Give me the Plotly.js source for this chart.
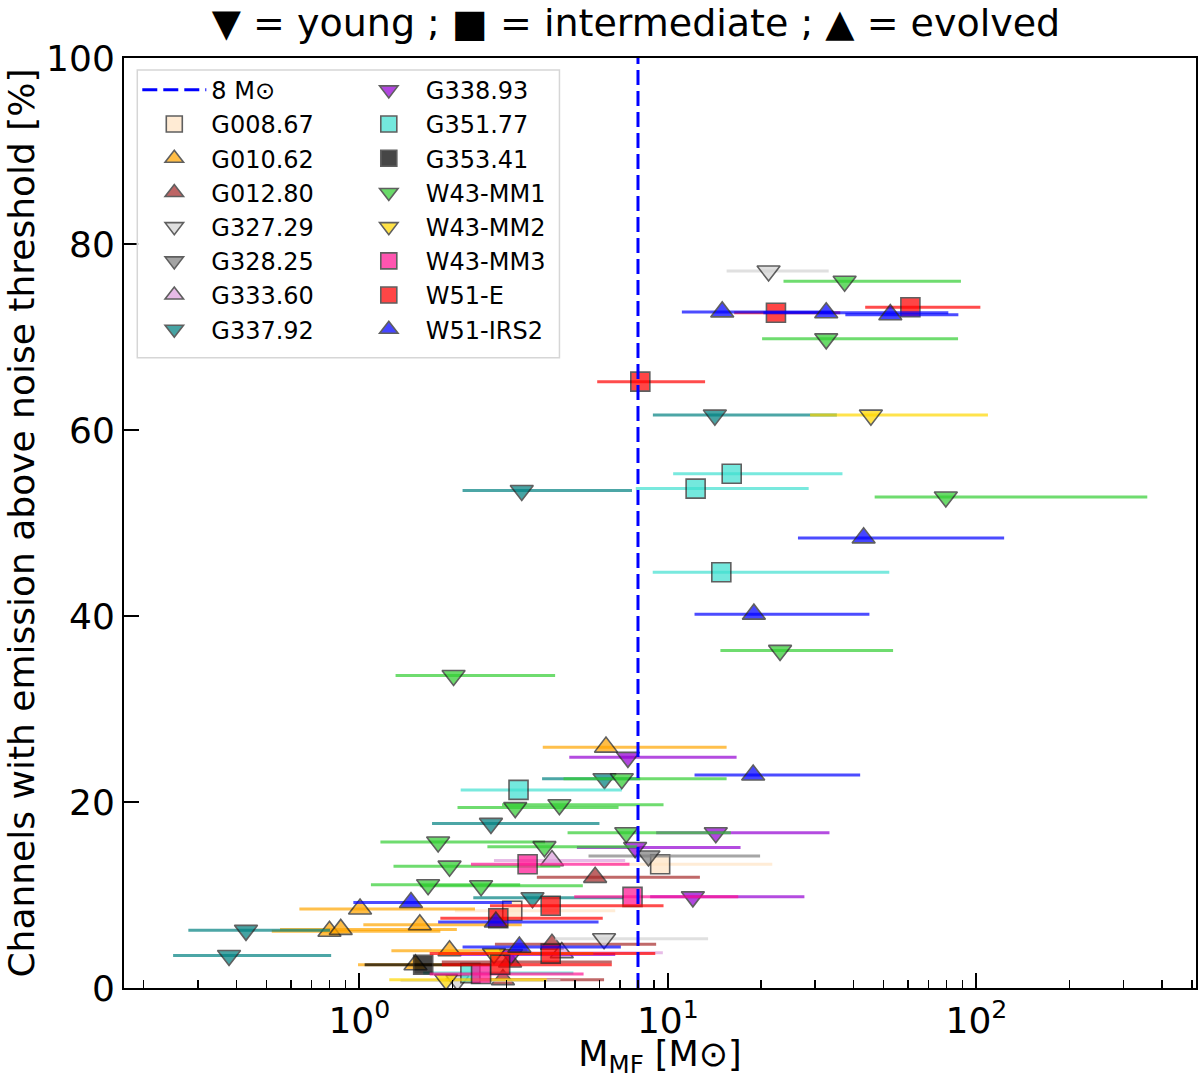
<!DOCTYPE html>
<html>
<head>
<meta charset="utf-8">
<script src="https://cdn.plot.ly/plotly-3.0.1.min.js"></script>
<style>
  body { margin: 0; background: #fff; }
  #plot { width: 1200px; height: 1079px; }
</style>
</head>
<body>
<div id="plot"></div>
<script>
// rows: [M_MF, channels %, lower M, upper M]
var G008_67 = [[9.44, 13.3, 5.60, 21.8], [3.13, 8.3, 2.04, 6.75]];
var G010_62 = [[6.30, 25.9, 3.93, 15.5], [1.005, 8.5, 0.639, 2.37], [1.57, 6.8, 1.03, 3.36],
   [0.80, 6.1, 0.52, 1.83], [0.87, 6.3, 0.553, 2.07], [1.96, 4.0, 1.27, 3.50], [1.52, 2.5, 0.99, 2.29]];
var G012_80 = [[5.81, 11.9, 3.76, 12.7], [4.21, 4.7, 2.75, 9.16], [3.08, 2.8, 1.85, 6.58], [2.92, 0.9, 1.90, 6.21]];
var G327_29 = [[21.2, 77.1, 15.5, 33.2], [6.21, 5.3, 4.31, 13.5], [2.08, 0.8, 1.36, 4.48]];
var G328_25 = [[8.65, 14.2, 5.53, 19.9]];
var G333_60 = [[4.21, 13.7, 2.73, 7.27], [4.53, 3.8, 2.29, 9.63]];
var G337_92 = [[14.2, 61.6, 8.94, 35.3], [3.36, 53.5, 2.16, 7.65], [6.23, 22.5, 3.91, 8.13],
   [2.67, 17.7, 1.72, 6.00], [3.64, 9.7, 2.34, 7.16], [0.429, 6.2, 0.279, 0.803], [0.378, 3.5, 0.249, 0.81]];
var G338_93 = [[7.42, 24.8, 4.79, 16.7], [14.3, 16.7, 9.16, 33.4], [7.83, 15.1, 5.07, 17.2],
   [12.05, 9.8, 8.76, 27.7], [3.10, 3.6, 2.12, 6.75]];
var G351_77 = [[16.1, 55.3, 10.4, 36.8], [12.3, 53.7, 7.87, 28.6], [14.9, 44.7, 8.93, 52.2],
   [3.28, 21.3, 2.13, 7.09], [2.29, 1.6, 1.61, 4.94]];
var G353_41 = [[1.61, 2.5, 1.04, 2.65]];
var W43_MM1 = [[37.4, 76.0, 23.7, 89.1], [32.6, 69.8, 20.2, 87.2], [79.6, 52.8, 46.8, 358],
   [23.1, 36.3, 14.8, 53.7], [2.02, 33.6, 1.31, 4.31], [7.09, 22.5, 4.59, 15.5], [3.20, 19.4, 2.08, 6.92],
   [4.45, 19.7, 2.90, 9.68], [7.33, 16.7, 4.73, 16.0], [1.80, 15.7, 1.17, 4.00], [3.98, 15.2, 2.60, 7.95],
   [1.96, 13.1, 1.29, 4.48], [1.67, 11.1, 1.09, 3.32], [2.48, 11.0, 1.57, 5.30]];
var W43_MM2 = [[45.5, 61.6, 28.9, 109], [2.73, 3.7, 1.80, 5.73], [1.91, 0.9, 1.25, 4.05]];
var W43_MM3 = [[3.51, 13.3, 2.30, 7.51], [7.68, 9.8, 4.97, 16.9], [2.48, 1.5, 1.69, 5.33]];
var W51_E = [[61.1, 73.2, 43.6, 103], [22.4, 72.6, 16.4, 36.2], [8.14, 65.2, 5.90, 13.2],
   [4.17, 8.85, 2.65, 9.68], [2.82, 7.5, 1.83, 6.15], [4.17, 3.7, 1.69, 9.10], [2.86, 2.5, 1.85, 6.58]];
var W51_IRS2 = [[15.0, 72.7, 11.1, 34.4], [32.6, 72.6, 20.4, 81.1], [52.6, 72.4, 37.6, 87.4],
   [43.1, 48.4, 26.4, 123], [19.0, 40.2, 12.2, 45.0], [18.9, 22.9, 12.2, 42.0],
   [1.47, 9.2, 0.956, 3.12], [2.77, 7.1, 1.80, 5.96], [3.30, 4.4, 2.16, 7.04]];

var names = ['G008.67', 'G010.62', 'G012.80', 'G327.29', 'G328.25', 'G333.60', 'G337.92', 'G338.93',
   'G351.77', 'G353.41', 'W43-MM1', 'W43-MM2', 'W43-MM3', 'W51-E', 'W51-IRS2'];
var rows = [G008_67, G010_62, G012_80, G327_29, G328_25, G333_60, G337_92, G338_93,
   G351_77, G353_41, W43_MM1, W43_MM2, W43_MM3, W51_E, W51_IRS2];
var colors = ['255,228,196', '255,165,0', '165,42,42', '211,211,211', '128,128,128', '221,160,221',
   '0,128,128', '148,0,211', '64,224,208', '0,0,0', '50,205,50', '255,215,0', '255,20,147',
   '255,0,0', '0,0,255'];
var symbols = ['square', 'triangle-up', 'triangle-up', 'triangle-down', 'triangle-down', 'triangle-up',
   'triangle-down', 'triangle-down', 'square', 'square', 'triangle-down', 'triangle-down', 'square',
   'square', 'triangle-up'];

var threshold = 8;
var xTicks = [1, 10, 100];
var xTickText = ['10<sup>0</sup>', '10<sup>1</sup>', '10<sup>2</sup>'];
var xMinor = [0.2, 0.3, 0.4, 0.5, 0.6, 0.7, 0.8, 0.9, 2, 3, 4, 5, 6, 7, 8, 9,
   20, 30, 40, 50, 60, 70, 80, 90, 200, 300, 400, 500];
var yTicks = [0, 20, 40, 60, 80, 100];

var font = 'DejaVu Sans';
var traces = [];

for (var i = 0; i < names.length; i++) {
   var r = rows[i];
   traces.push({
      name: names[i],
      x: r.map(function (d) { return d[0]; }),
      y: r.map(function (d) { return d[1]; }),
      type: 'scatter',
      mode: 'markers',
      legend: i < 7 ? 'legend' : 'legend2',
      legendrank: i + 2,
      marker: {
         symbol: symbols[i],
         size: symbols[i] == 'square' ? 19 : 20,
         color: 'rgb(' + colors[i] + ')',
         opacity: 0.72,
         line: {color: '#222222', width: 1.6}
      },
      error_x: {
         type: 'data',
         symmetric: false,
         array: r.map(function (d) { return d[3] - d[0]; }),
         arrayminus: r.map(function (d) { return d[0] - d[2]; }),
         color: 'rgba(' + colors[i] + ',0.7)',
         thickness: 3,
         width: 0
      },
      hoverinfo: 'x+y+name'
   });
}

traces.push({
   name: '8 M\u2299',
   x: [threshold, threshold],
   y: [0, 100],
   type: 'scatter',
   mode: 'lines',
   legend: 'legend',
   legendrank: 1,
   line: {color: 'blue', width: 3, dash: '15px,6px'},
   hoverinfo: 'skip'
});

var legendBase = {
   font: {family: font, size: 24, color: '#000'},
   bgcolor: 'rgba(0,0,0,0)',
   borderwidth: 0,
   itemwidth: 64,
   xanchor: 'left',
   yanchor: 'top',
   y: 0.9895
};

var layout = {
   width: 1200,
   height: 1079,
   paper_bgcolor: '#fff',
   plot_bgcolor: '#fff',
   margin: {l: 124, r: 4, t: 58, b: 91},
   font: {family: font, size: 36, color: '#000'},
   title: {
      text: '\u25BC = young ; \u25A0 = intermediate ; \u25B2 = evolved',
      font: {family: font, size: 38, color: '#000'},
      x: 0.53,
      xref: 'container',
      xanchor: 'center',
      y: 0.979,
      yanchor: 'middle'
   },
   xaxis: {
      type: 'log',
      range: [Math.log10(0.1726), Math.log10(515)],
      tickmode: 'array',
      tickvals: xTicks,
      ticktext: xTickText,
      ticks: 'inside',
      ticklen: 15,
      tickwidth: 2,
      tickcolor: '#000',
      minor: {tickmode: 'array', tickvals: xMinor, ticks: 'inside', ticklen: 8, tickwidth: 1.5, tickcolor: '#000'},
      tickfont: {family: font, size: 36},
      showline: true,
      linewidth: 2,
      linecolor: '#000',
      mirror: true,
      showgrid: false,
      zeroline: false,
      title: {text: 'M<sub>MF</sub> [M\u2299]', font: {family: font, size: 35}, standoff: 16}
   },
   yaxis: {
      range: [0, 100],
      tickmode: 'array',
      tickvals: yTicks,
      ticks: 'inside',
      ticklen: 15,
      tickwidth: 2,
      tickcolor: '#000',
      tickfont: {family: font, size: 36},
      showline: true,
      linewidth: 2,
      linecolor: '#000',
      mirror: true,
      showgrid: false,
      zeroline: false,
      title: {text: 'Channels with emission above noise threshold [%]', font: {family: font, size: 36}, standoff: 0}
   },
   legend: Object.assign({}, legendBase, {x: 0.0124}),
   legend2: Object.assign({}, legendBase, {x: 0.2125}),
   shapes: [{
      type: 'rect',
      xref: 'paper', yref: 'paper',
      x0: 0.0124, x1: 0.4062, y0: 0.6777, y1: 0.9871,
      fillcolor: 'rgba(255,255,255,0.85)',
      line: {color: '#d6d6d6', width: 1.5},
      layer: 'above'
   }],
   showlegend: true
};

Plotly.newPlot('plot', traces, layout, {displayModeBar: false, staticPlot: true});
</script>
</body>
</html>
